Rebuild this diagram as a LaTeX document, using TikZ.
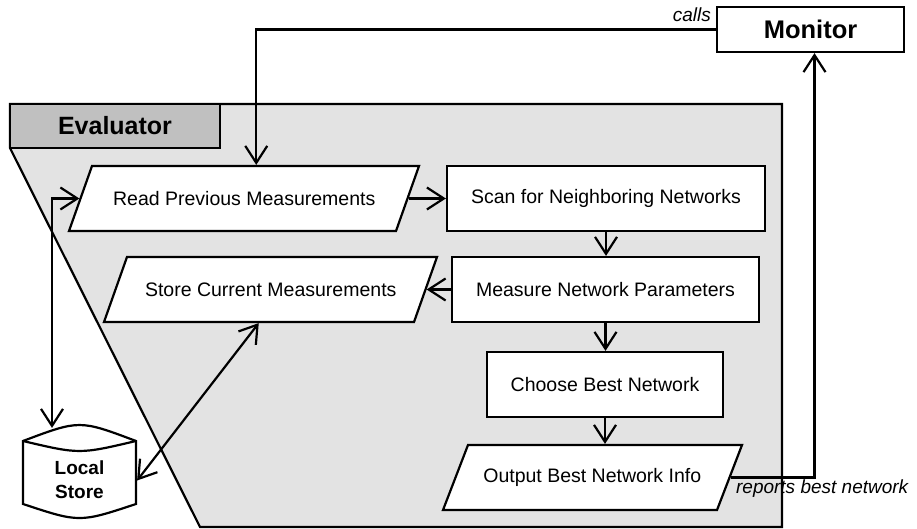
\documentclass[tikz,border=0pt]{standalone}
\usepackage{fontspec}
\setmainfont{Liberation Sans}
\usetikzlibrary{arrows.meta,calc}
\definecolor{contgray}{RGB}{227,227,227}
\definecolor{tabgray}{RGB}{192,192,192}
\begin{document}
\begin{tikzpicture}[x=1pt,y=-1pt,line width=2.2pt,
  every node/.style={font=\fontsize{19.5}{24}\selectfont},
  procbox/.style={draw,fill=white,rectangle,minimum height=65pt,inner sep=0pt},
  iotext/.style={rectangle,minimum height=65pt,inner sep=0pt},
  iofill/.style={draw,fill=white,line join=miter},
  arr/.style={-{Straight Barb[length=17pt,width=22pt]}},
  arrboth/.style={{Straight Barb[length=17pt,width=22pt]}-{Straight Barb[length=17pt,width=22pt]}},
  lbl/.style={font=\itshape\fontsize{19}{22}\selectfont,inner sep=0pt}]
\useasboundingbox (0,0) rectangle (917,529);
% container
\draw[fill=contgray] (10,104) -- (782,104) -- (782,527) -- (200,527) -- (10,148) -- cycle;
\node[draw,fill=tabgray,minimum width=210pt,minimum height=44pt,inner sep=0pt,
  font=\bfseries\fontsize{25}{28}\selectfont] (tab) at (115,126) {Evaluator};
% monitor
\node[draw,fill=white,minimum width=187pt,minimum height=45pt,inner sep=0pt,
  font=\bfseries\fontsize{25.5}{28}\selectfont] (Monitor) at (810.5,29.5) {Monitor};
% parallelogram outlines
\draw[iofill] (69,231) -- (396,231) -- (419,166) -- (92,166) -- cycle;
\draw[iofill] (104,322) -- (414,322) -- (437,257) -- (127,257) -- cycle;
\draw[iofill] (443,510) -- (717,510) -- (742,445) -- (468,445) -- cycle;
% process nodes
\node[iotext,minimum width=327.5pt] (Read) at (244.25,198.5) {Read Previous Measurements};
\node[procbox,minimum width=318pt] (Scan) at (606,198.5) {Scan for Neighboring Networks};
\node[procbox,minimum width=307pt] (Measure) at (605.5,289.5) {Measure Network Parameters};
\node[iotext,minimum width=309.5pt] (Store) at (270.75,289.5) {Store Current Measurements};
\node[procbox,minimum width=236pt] (Choose) at (605,384.5) {Choose Best Network};
\node[iotext,minimum width=274.5pt] (Output) at (592.25,477.5) {Output Best Network Info};
% local store
\draw[fill=white] (23,441) .. controls (79.5,419.7) .. (136,441) -- (136,504)
  .. controls (79.5,522.7) .. (23,504) -- cycle;
\draw (23,441) .. controls (79.5,454.3) .. (136,441);
\node[minimum width=113pt,minimum height=77pt,inner sep=0pt,align=center,
  font=\bfseries\fontsize{19}{24}\selectfont] (Local) at (79.5,479.5) {Local\\Store};
% connectors
\draw[arr] (Monitor.west) -| ([xshift=12pt]Read.north);
\node[lbl,anchor=base east] (calls) at (712,22) {calls};
\draw[arr] (Read.east) -- (Scan.west);
\draw[arr] (Scan.south) -- (Scan.south |- Measure.north);
\draw[arr] (Measure.west) -- (Store.east);
\draw[arr] (Measure.south) -- (Measure.south |- Choose.north);
\draw[arr] (Choose.south) -- (Choose.south |- Output.north);
\draw[arr] (Output.east) -| ([xshift=4pt]Monitor.south);
\node[lbl,anchor=base west] (reports) at (735,493) {reports best network};
\draw[arrboth] (Read.west) -| ($(Local.north)+(-27.5,-12)$);
\draw[arrboth] ($(Store.south)+(-12,0)$) -- ($(Local.east)+(0,1)$);
\end{tikzpicture}
\end{document}
